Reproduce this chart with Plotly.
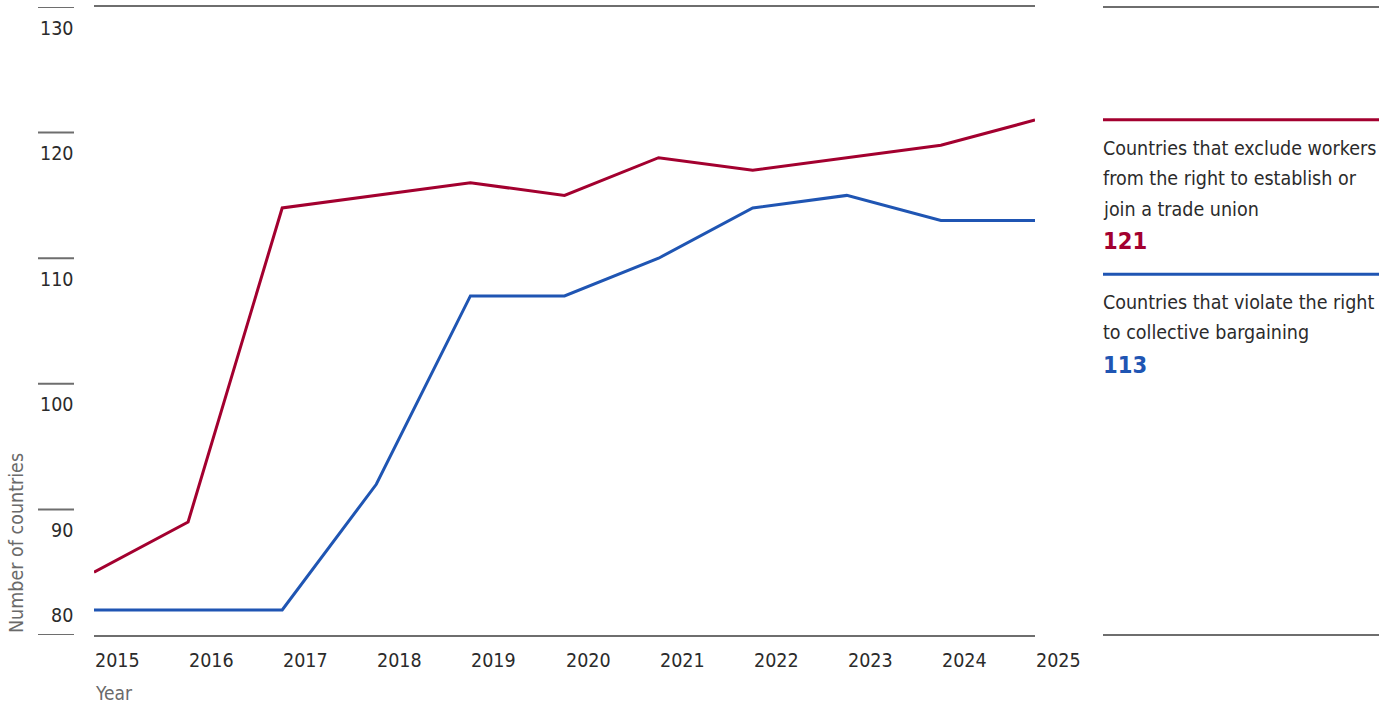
import plotly.graph_objects as go

years = [2015, 2016, 2017, 2018, 2019, 2020, 2021, 2022, 2023, 2024, 2025]
exclude_union = [85, 89, 114, 115, 116, 115, 118, 117, 118, 119, 121]
violate_bargaining = [82, 82, 82, 92, 107, 107, 110, 114, 115, 113, 113]
y_ticks = [80, 90, 100, 110, 120, 130]
x_ticks = years

red_label = ["Countries that exclude workers", "from the right to establish or", "join a trade union"]
blue_label = ["Countries that violate the right", "to collective bargaining"]
red_value = "121"
blue_value = "113"

RED = "#A3002F"
BLUE = "#1F55B3"
GREY = "#6e6e6e"
TEXT = "#2b2b2b"
FONT = "DejaVu Sans Condensed, Liberation Sans Narrow, Arial Narrow, sans-serif"

W, H = 1379, 710
L, R, T, B = 94, 344, 5, 75
pw = W - L - R
ph = H - T - B

def px_x(px):
    return (px - L) / pw

def px_y(py):
    return (H - B - py) / ph

fig = go.Figure()
fig.add_trace(go.Scatter(x=years, y=exclude_union, mode="lines",
                         line=dict(color=RED, width=3), hoverinfo="x+y", showlegend=False))
fig.add_trace(go.Scatter(x=years, y=violate_bargaining, mode="lines",
                         line=dict(color=BLUE, width=3), hoverinfo="x+y", showlegend=False))

shapes = []
annotations = []
# y tick marks and labels
for i, t in enumerate(y_ticks):
    shapes.append(dict(type="line", xref="paper", yref="y", x0=px_x(38), x1=px_x(74), y0=t, y1=t,
                       line=dict(color=GREY, width=2)))
    annotations.append(dict(xref="paper", yref="y", x=px_x(75), y=t, text=str(t), showarrow=False,
                            xanchor="right", yanchor="middle", yshift=(20 if i == 0 else -21),
                            font=dict(family=FONT, size=19.5, color=TEXT)))
# x tick labels (left aligned at tick)
for t in x_ticks:
    annotations.append(dict(xref="x", yref="paper", x=t, y=0, text=str(t), showarrow=False,
                            xanchor="left", yanchor="middle", yshift=-25, xshift=-1,
                            font=dict(family=FONT, size=19.5, color=TEXT)))
# axis titles
annotations.append(dict(xref="paper", yref="paper", x=px_x(93), y=px_y(693), text="Year",
                        showarrow=False, xanchor="left", yanchor="middle",
                        font=dict(family=FONT, size=19, color="#6a6a6a")))
annotations.append(dict(xref="paper", yref="paper", x=px_x(16), y=0, text="Number of countries",
                        showarrow=False, textangle=-90, xanchor="center", yanchor="bottom",
                        font=dict(family=FONT, size=19.5, color="#6a6a6a")))

# legend block lines
lx0, lx1 = px_x(1103), px_x(1379)
for py, col in [(5, GREY), (118, RED), (273, BLUE), (635, GREY)]:
    shapes.append(dict(type="line", xref="paper", yref="paper", x0=lx0, x1=lx1,
                       y0=px_y(py), y1=px_y(py), line=dict(color=col, width=3 if col != GREY else 2)))

for i, line in enumerate(red_label):
    annotations.append(dict(xref="paper", yref="paper", x=lx0, y=px_y(147 + 30.5 * i), text=line,
                            showarrow=False, xanchor="left", yanchor="middle", xshift=-2,
                            font=dict(family=FONT, size=19.5, color=TEXT)))
annotations.append(dict(xref="paper", yref="paper", x=lx0, y=px_y(240), text="<b>" + red_value + "</b>",
                        showarrow=False, xanchor="left", yanchor="middle", xshift=-2,
                        font=dict(family=FONT, size=23.5, color=RED)))
for i, line in enumerate(blue_label):
    annotations.append(dict(xref="paper", yref="paper", x=lx0, y=px_y(301 + 30.5 * i), text=line,
                            showarrow=False, xanchor="left", yanchor="middle", xshift=-2,
                            font=dict(family=FONT, size=19.5, color=TEXT)))
annotations.append(dict(xref="paper", yref="paper", x=lx0, y=px_y(364), text="<b>" + blue_value + "</b>",
                        showarrow=False, xanchor="left", yanchor="middle", xshift=-2,
                        font=dict(family=FONT, size=23.5, color=BLUE)))

fig.update_layout(
    width=W, height=H,
    margin=dict(l=L, r=R, t=T, b=B),
    paper_bgcolor="white", plot_bgcolor="white",
    font=dict(family=FONT, color=TEXT),
    xaxis=dict(range=[2015, 2025], showgrid=False, zeroline=False, showticklabels=False, ticks="",
               showline=True, mirror=True, linecolor=GREY, linewidth=2, fixedrange=True),
    yaxis=dict(range=[80, 130], showgrid=False, zeroline=False, showticklabels=False, ticks="",
               showline=False, fixedrange=True),
    shapes=shapes, annotations=annotations, showlegend=False,
)

fig.write_html("out.html", config={"displayModeBar": False},
               post_script="document.body.style.margin='0';document.body.style.overflow='hidden';")
